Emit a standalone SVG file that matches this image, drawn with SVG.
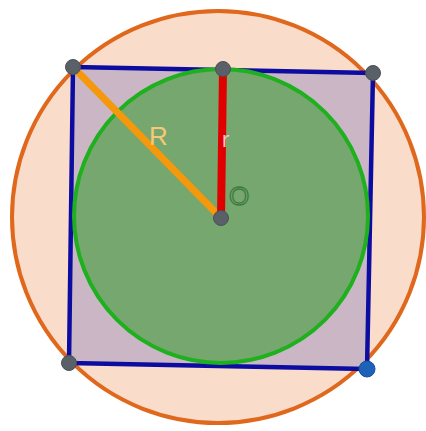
<svg xmlns="http://www.w3.org/2000/svg" width="426" height="431" viewBox="0 0 426 431">
<style>
.pt{fill:#5a6068;stroke:#4a5058;stroke-width:1}
.lbl{font-family:"Liberation Sans",Arial,sans-serif}
</style>
<rect width="426" height="431" fill="#ffffff"/>
<g id="outer-circle"><circle cx="218" cy="217" r="206" fill="#fadcca" stroke="#e0681c" stroke-width="4"/></g>
<g id="square"><polygon points="73,67 373,73 367,369 69,363" fill="#cbb6c6" stroke="#0c0ca0" stroke-width="4.5" stroke-linejoin="round"/></g>
<g id="inner-circle"><circle cx="221" cy="216" r="147" fill="#76a76e" stroke="#1eb01e" stroke-width="4"/></g>
<g id="connectors">
<line x1="73" y1="67" x2="221" y2="218" stroke="#f5980c" stroke-width="7"/>
<line x1="223" y1="69" x2="221" y2="218" stroke="#e00000" stroke-width="8"/>
</g>
<g id="labels">
<text class="lbl" x="149" y="145" font-size="26" fill="#f8c878">R</text>
<text class="lbl" x="222" y="147" font-size="22" fill="#f4c8cc">r</text>
<text class="lbl" x="229" y="205" font-size="26" fill="none" stroke="#3f7a3f" stroke-width="1.3">O</text>
</g>
<g id="points">
<circle class="pt" cx="73" cy="67" r="7.5"/>
<circle class="pt" cx="223" cy="69" r="7.5"/>
<circle class="pt" cx="373" cy="73" r="7.5"/>
<circle class="pt" cx="69" cy="363" r="7.5"/>
<circle cx="367" cy="369" r="8" fill="#1e62b8" stroke="#1a50a0" stroke-width="1"/>
<circle class="pt" cx="221" cy="218" r="7.5"/>
</g>
</svg>
